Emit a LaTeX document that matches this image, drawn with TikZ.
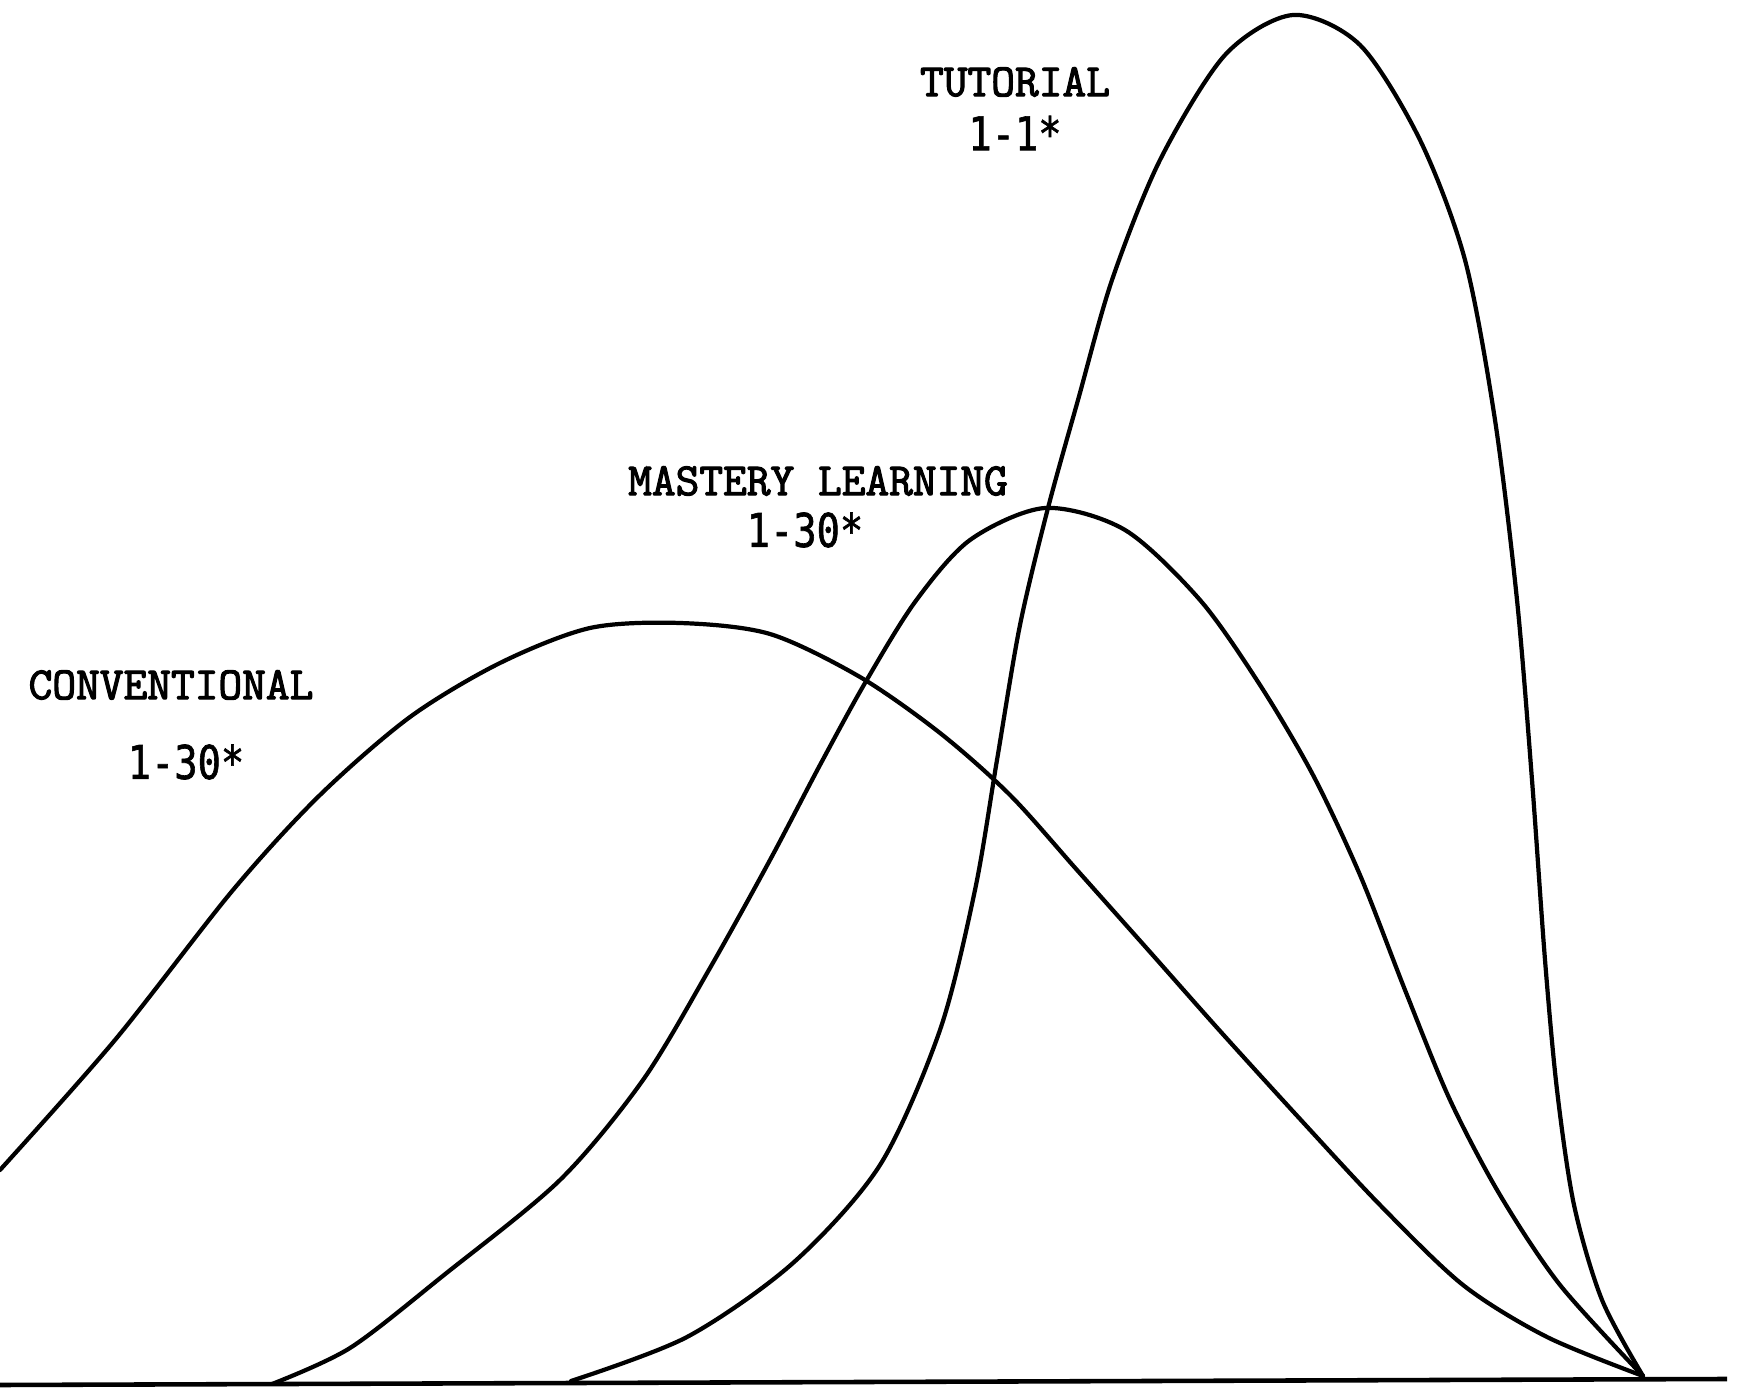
\documentclass[tikz,border=0pt]{standalone}
\usepackage{fontspec}
\usepackage{graphicx}
\newfontfamily\labelfont{Latin Modern Mono}[FakeBold=2.5]
\newfontfamily\numfont{DejaVu Sans Mono}[FakeBold=1.5]
\begin{document}
\begin{tikzpicture}[x=0.01cm,y=-0.01cm,
  curve/.style={line width=1.2pt,line join=round,line cap=round},
  base/.style={line width=1.3pt},
  lbl/.style={inner sep=0pt,anchor=center,font=\labelfont\bfseries\fontsize{13.1}{15}\selectfont},
  num/.style={inner sep=0pt,anchor=center,font=\numfont\fontsize{11}{13}\selectfont}]
\useasboundingbox (0,0) rectangle (1739,1392);
% baseline
\coordinate (bl) at (0,1385);
\coordinate (br) at (1727,1379);
\coordinate (meet) at (1643,1376);
\draw[base] (bl) -- (br);
% conventional
\draw[curve] plot[smooth,tension=0.5] coordinates {
 (0,1170) (115,1040) (233,890) (320,795) (410,717) (500,663) (590,628) (680,623)
 (770,634) (860,677) (940,733) (1010,795) (1077,870) (1150,952) (1220,1031) (1300,1119)
 (1380,1205) (1463,1285) (1547,1337) (1643,1376)};
% mastery learning
\draw[curve] plot[smooth,tension=0.5] coordinates {
 (272,1384) (350,1348) (444,1275) (560,1180) (643,1080) (710,968) (770,860) (820,765)
 (865,683) (915,602) (970,540) (1045,508) (1125,530) (1200,600) (1260,685) (1313,775)
 (1360,875) (1405,990) (1450,1100) (1500,1195) (1560,1285) (1643,1376)};
% tutorial
\draw[curve] plot[smooth,tension=0.5] coordinates {
 (571,1381) (687,1337) (793,1263) (880,1165) (940,1030) (975,890) (997,760) (1020,625)
 (1048,508) (1078,400) (1112,280) (1160,160) (1225,55) (1293,15) (1360,45) (1420,140)
 (1465,260) (1495,420) (1517,600) (1532,780) (1545,960) (1557,1090) (1574,1205) (1602,1300) (1643,1376)};
% labels
\node[lbl] (tut) at (1015,82) {TUTORIAL};
\node[num] (tutn) at (1015,133) {\scalebox{1}[1.2]{1-1*}};
\node[lbl] (mas) at (818,481) {MASTERY LEARNING};
\node[num] (masn) at (805,530) {\scalebox{1}[1.2]{1-30*}};
\node[lbl] (con) at (171,685) {CONVENTIONAL};
\node[num] (conn) at (186,762) {\scalebox{1}[1.2]{1-30*}};
\end{tikzpicture}
\end{document}
